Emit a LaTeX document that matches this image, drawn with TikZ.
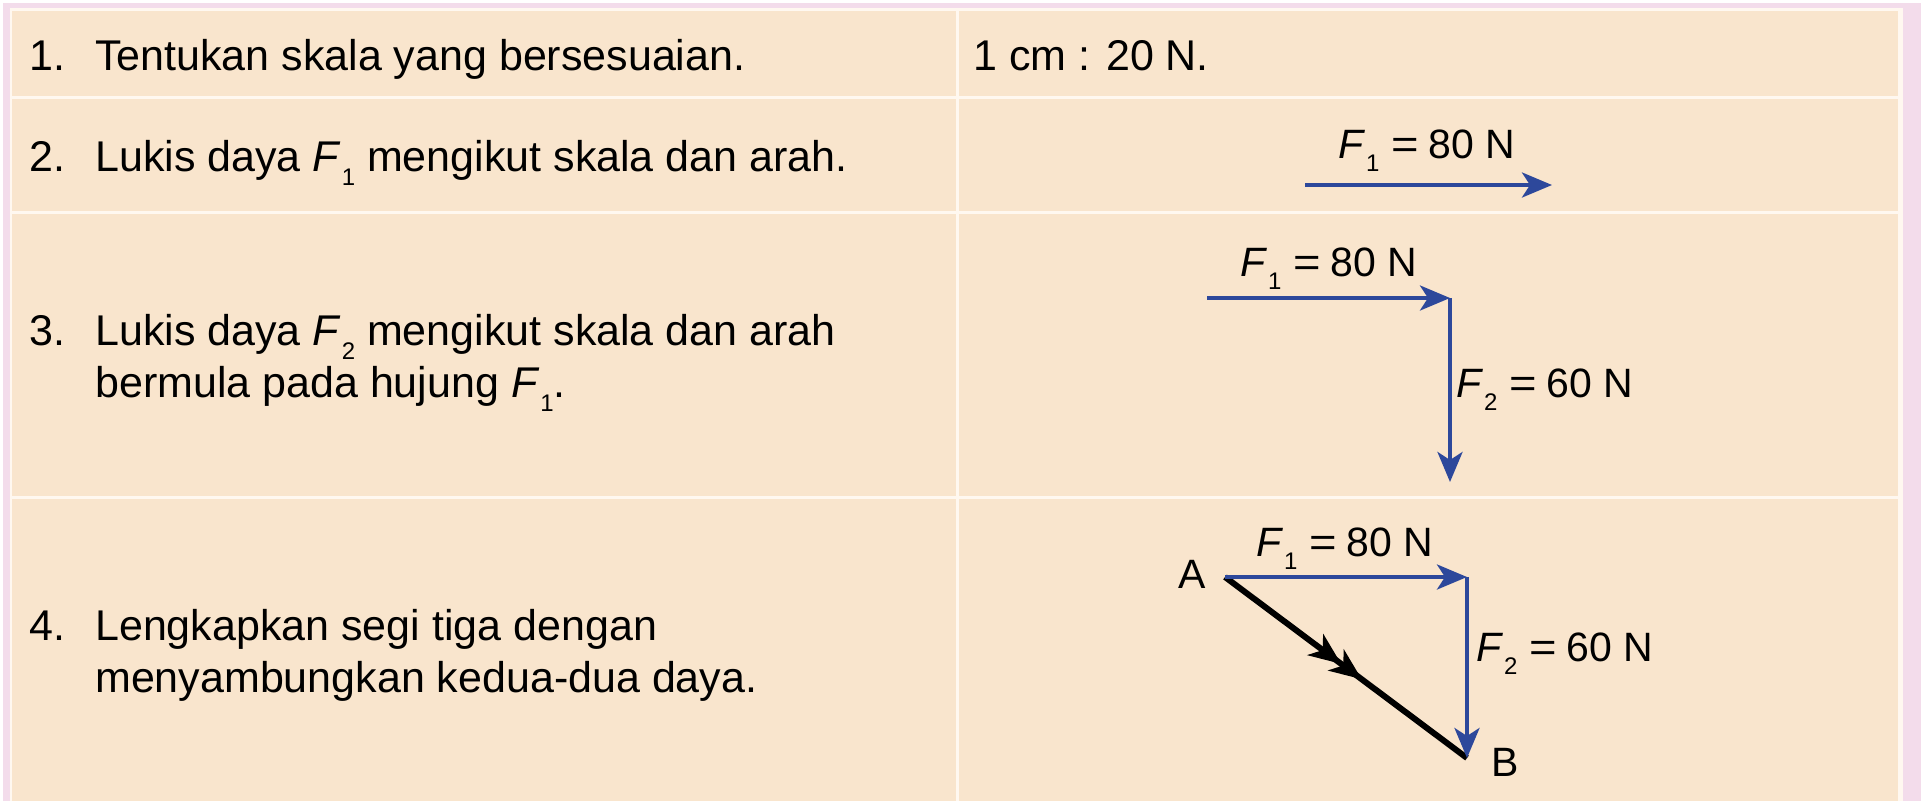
\documentclass[tikz,border=0pt]{standalone}
\usepackage{fontspec}
\setmainfont{Liberation Sans}
\usetikzlibrary{arrows.meta,decorations.markings}
\definecolor{pinkbg}{RGB}{243,220,235}
\definecolor{beige}{RGB}{249,229,205}
\definecolor{sepcol}{RGB}{255,248,240}
\definecolor{vblue}{RGB}{45,72,155}
\newcommand{\Fb}[1]{\textit{F}\kern0.02em\raisebox{-0.34em}{\fontsize{24}{24}\selectfont #1}}
\newcommand{\Fl}[1]{\textit{F}\kern0.02em\raisebox{-0.34em}{\fontsize{24}{24}\selectfont #1}}
\newcommand{\Eq}{\hspace{0.3em}\scalebox{1.15}[1]{=}\hspace{0.22em}}
\begin{document}
\begin{tikzpicture}[x=1pt,y=-1pt,
  body/.style={anchor=base west,inner sep=0pt,font=\fontsize{43}{52}\selectfont},
  lab/.style={anchor=base west,inner sep=0pt,font=\fontsize{41}{48}\selectfont},
  pt/.style={anchor=center,inner sep=0pt,font=\fontsize{41}{46}\selectfont},
  vec/.style={draw=vblue,line width=4pt,-{Stealth[length=30pt,width=25pt,inset=8pt]}},
  res/.style={draw=black,line width=6pt,postaction=decorate,
    decoration={markings,
      mark=at position 0.48 with {\arrow{Stealth[length=32pt,width=26pt,inset=9pt]}},
      mark=at position 0.565 with {\arrow{Stealth[length=32pt,width=26pt,inset=9pt]}}}}
]
\useasboundingbox (0,0) rectangle (1921,801);
% background and frame
\fill[white] (0,0) rectangle (1921,801);
\fill[pinkbg] (3,3) rectangle (1921,801);
\fill[sepcol] (10,8) rectangle (1903,801);
\fill[beige] (12,11) rectangle (1898,801);
% table rules
\fill[sepcol] (12,96) rectangle (1898,99);
\fill[sepcol] (12,211) rectangle (1898,214);
\fill[sepcol] (12,496) rectangle (1898,499);
\fill[sepcol] (955.5,11) rectangle (958.5,801);

% left column texts
\node[body] (n1) at (29,70) {1.};
\node[body] (t1) at (95,70) {Tentukan skala yang bersesuaian.};
\node[body] (n2) at (29,171) {2.};
\node[body] (t2) at (95,171) {Lukis daya \Fb{1} mengikut skala dan arah.};
\node[body] (n3) at (29,345) {3.};
\node[body] (t3a) at (95,345) {Lukis daya \Fb{2} mengikut skala dan arah};
\node[body] (t3b) at (95,397) {bermula pada hujung \Fb{1}.};
\node[body] (n4) at (29,640) {4.};
\node[body] (t4a) at (95,640) {Lengkapkan segi tiga dengan};
\node[body] (t4b) at (95,692) {menyambungkan kedua-dua daya.};

% right column
\node[body] (r1) at (973,70) {1 cm : 20 N.};

% row 2
\coordinate (a2) at (1305,185);
\coordinate (b2) at (1552,185);
\draw[vec] (a2) -- (b2);
\node[lab] (l2) at (1338,158) {\Fl{1}\Eq{}80 N};

% row 3
\coordinate (a3) at (1207,298);
\coordinate (b3) at (1450,298);
\coordinate (c3) at (1450,482);
\draw[vec] (a3) -- (b3);
\draw[vec] (b3) -- (c3);
\node[lab] (l3a) at (1240,276) {\Fl{1}\Eq{}80 N};
\node[lab] (l3b) at (1456,397) {\Fl{2}\Eq{}60 N};

% row 4
\coordinate (A) at (1225,577);
\coordinate (C) at (1467,577);
\coordinate (B) at (1467,758);
\draw[res] (A) -- (B);
\draw[vec] (A) -- (C);
\draw[vec] (C) -- (B);
\node[pt] (lA) at (1192,574) {A};
\node[pt] (lB) at (1505,762) {B};
\node[lab] (l4a) at (1256,556) {\Fl{1}\Eq{}80 N};
\node[lab] (l4b) at (1476,661) {\Fl{2}\Eq{}60 N};
\end{tikzpicture}
\end{document}
